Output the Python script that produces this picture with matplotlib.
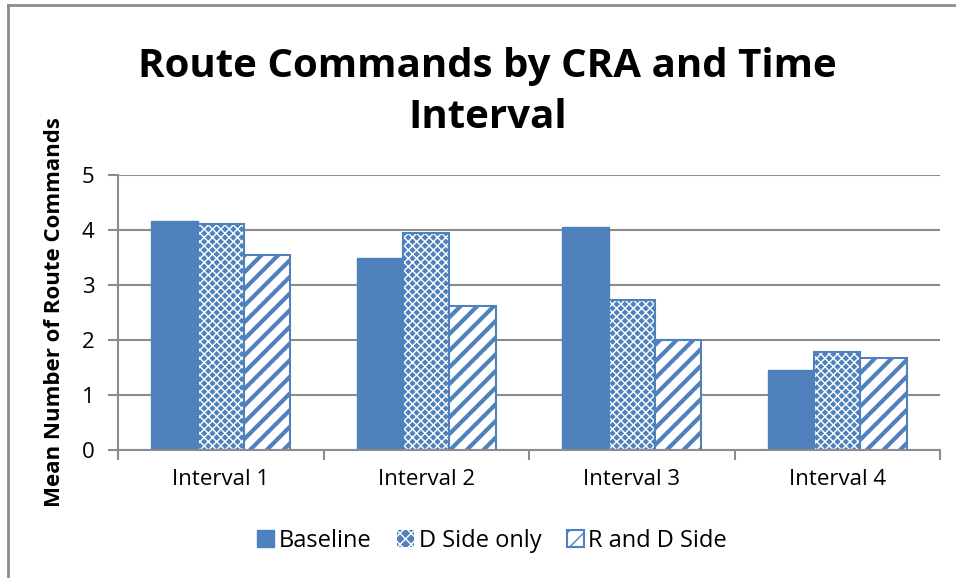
import numpy as np
import matplotlib
matplotlib.use("Agg")
import matplotlib.pyplot as plt
from matplotlib.patches import Patch
from matplotlib.lines import Line2D

plt.rcParams['font.family'] = ['Open Sans', 'DejaVu Sans']

categories = ["Interval 1", "Interval 2", "Interval 3", "Interval 4"]
series_names = ["Baseline", "D Side only", "R and D Side"]
baseline = [4.17, 3.50, 4.06, 1.45]
d_side = [4.11, 3.94, 2.73, 1.78]
r_and_d = [3.55, 2.61, 2.00, 1.67]
y_ticks = [0, 1, 2, 3, 4, 5]

blue = '#4F81BD'
grid_gray = '#8C8C8C'

fig = plt.figure(figsize=(9.56, 5.78), dpi=100)
ax = fig.add_axes([118 / 956, 1 - 450 / 578, 822 / 956, 275 / 578])

x = np.arange(len(categories))
w = 0.225

# gridlines
ax.set_ylim(0, 5)
ax.set_xlim(-0.5, len(categories) - 0.5)
ax.set_yticks(y_ticks)
ax.yaxis.grid(True, color=grid_gray, linewidth=1.5)
ax.set_axisbelow(True)

# Baseline: solid
ax.bar(x - w, baseline, w, color=blue, edgecolor=blue, linewidth=1)

# D Side only: blue with white cross pattern
with plt.rc_context({'hatch.linewidth': 1.0}):
    dp = ax.bar(x, d_side, w, color=blue, edgecolor='white', hatch='xxxx', linewidth=0)
for p in dp:
    if hasattr(p, 'set_hatch_linewidth'):
        p.set_hatch_linewidth(1.0)
ax.bar(x, d_side, w, fill=False, edgecolor=blue, linewidth=1.5)

# R and D Side: white with thick diagonal stripes
with plt.rc_context({'hatch.linewidth': 3.0}):
    rp = ax.bar(x + w, r_and_d, w, color='white', edgecolor=blue, hatch='//', linewidth=1.5)
for p in rp:
    if hasattr(p, 'set_hatch_linewidth'):
        p.set_hatch_linewidth(3.0)

for s in ['top', 'right']:
    ax.spines[s].set_visible(False)
ax.spines['left'].set_color(grid_gray)
ax.spines['bottom'].set_color(grid_gray)
ax.spines['left'].set_linewidth(1.5)
ax.spines['bottom'].set_linewidth(1.5)

ax.set_xticks(np.arange(len(categories) + 1) - 0.5)
ax.set_xticklabels([])
ax.set_xticks(x, minor=True)
ax.set_xticklabels(categories, minor=True, fontsize=16)
ax.tick_params(axis='x', which='major', length=7, width=1.5, color=grid_gray, direction='out')
ax.tick_params(axis='x', which='minor', length=0, pad=14)
ax.tick_params(axis='y', length=7, width=1.5, color=grid_gray, labelsize=16, pad=10)

ax.set_ylabel("Mean Number of Route Commands", fontsize=16, fontweight='bold', labelpad=12)

fig.text(0.51, 1 - 128 / 578, "Route Commands by CRA and Time\nInterval", ha='center',
         va='baseline', fontsize=29, fontweight='bold', linespacing=1.4)

handles = [Patch(facecolor=blue, edgecolor=blue),
           Patch(facecolor=blue, edgecolor='white', hatch='xxx', linewidth=0),
           Patch(facecolor='white', edgecolor=blue, hatch='//', linewidth=1.5)]
fig.legend(handles, series_names, loc='center', bbox_to_anchor=(0.515, 1 - 541 / 578),
           ncol=3, frameon=False, fontsize=17, handlelength=0.7, handleheight=0.7,
           handletextpad=0.2, columnspacing=1.1)

# chart border (top and left visible)
fig.add_artist(Line2D([8 / 956, 8 / 956], [0, 1 - 5 / 578], color='#8C8C8C', linewidth=2,
                      transform=fig.transFigure))
fig.add_artist(Line2D([8 / 956, 1], [1 - 5 / 578, 1 - 5 / 578], color='#8C8C8C', linewidth=2,
                      transform=fig.transFigure))

fig.savefig("out.png", dpi=100)
